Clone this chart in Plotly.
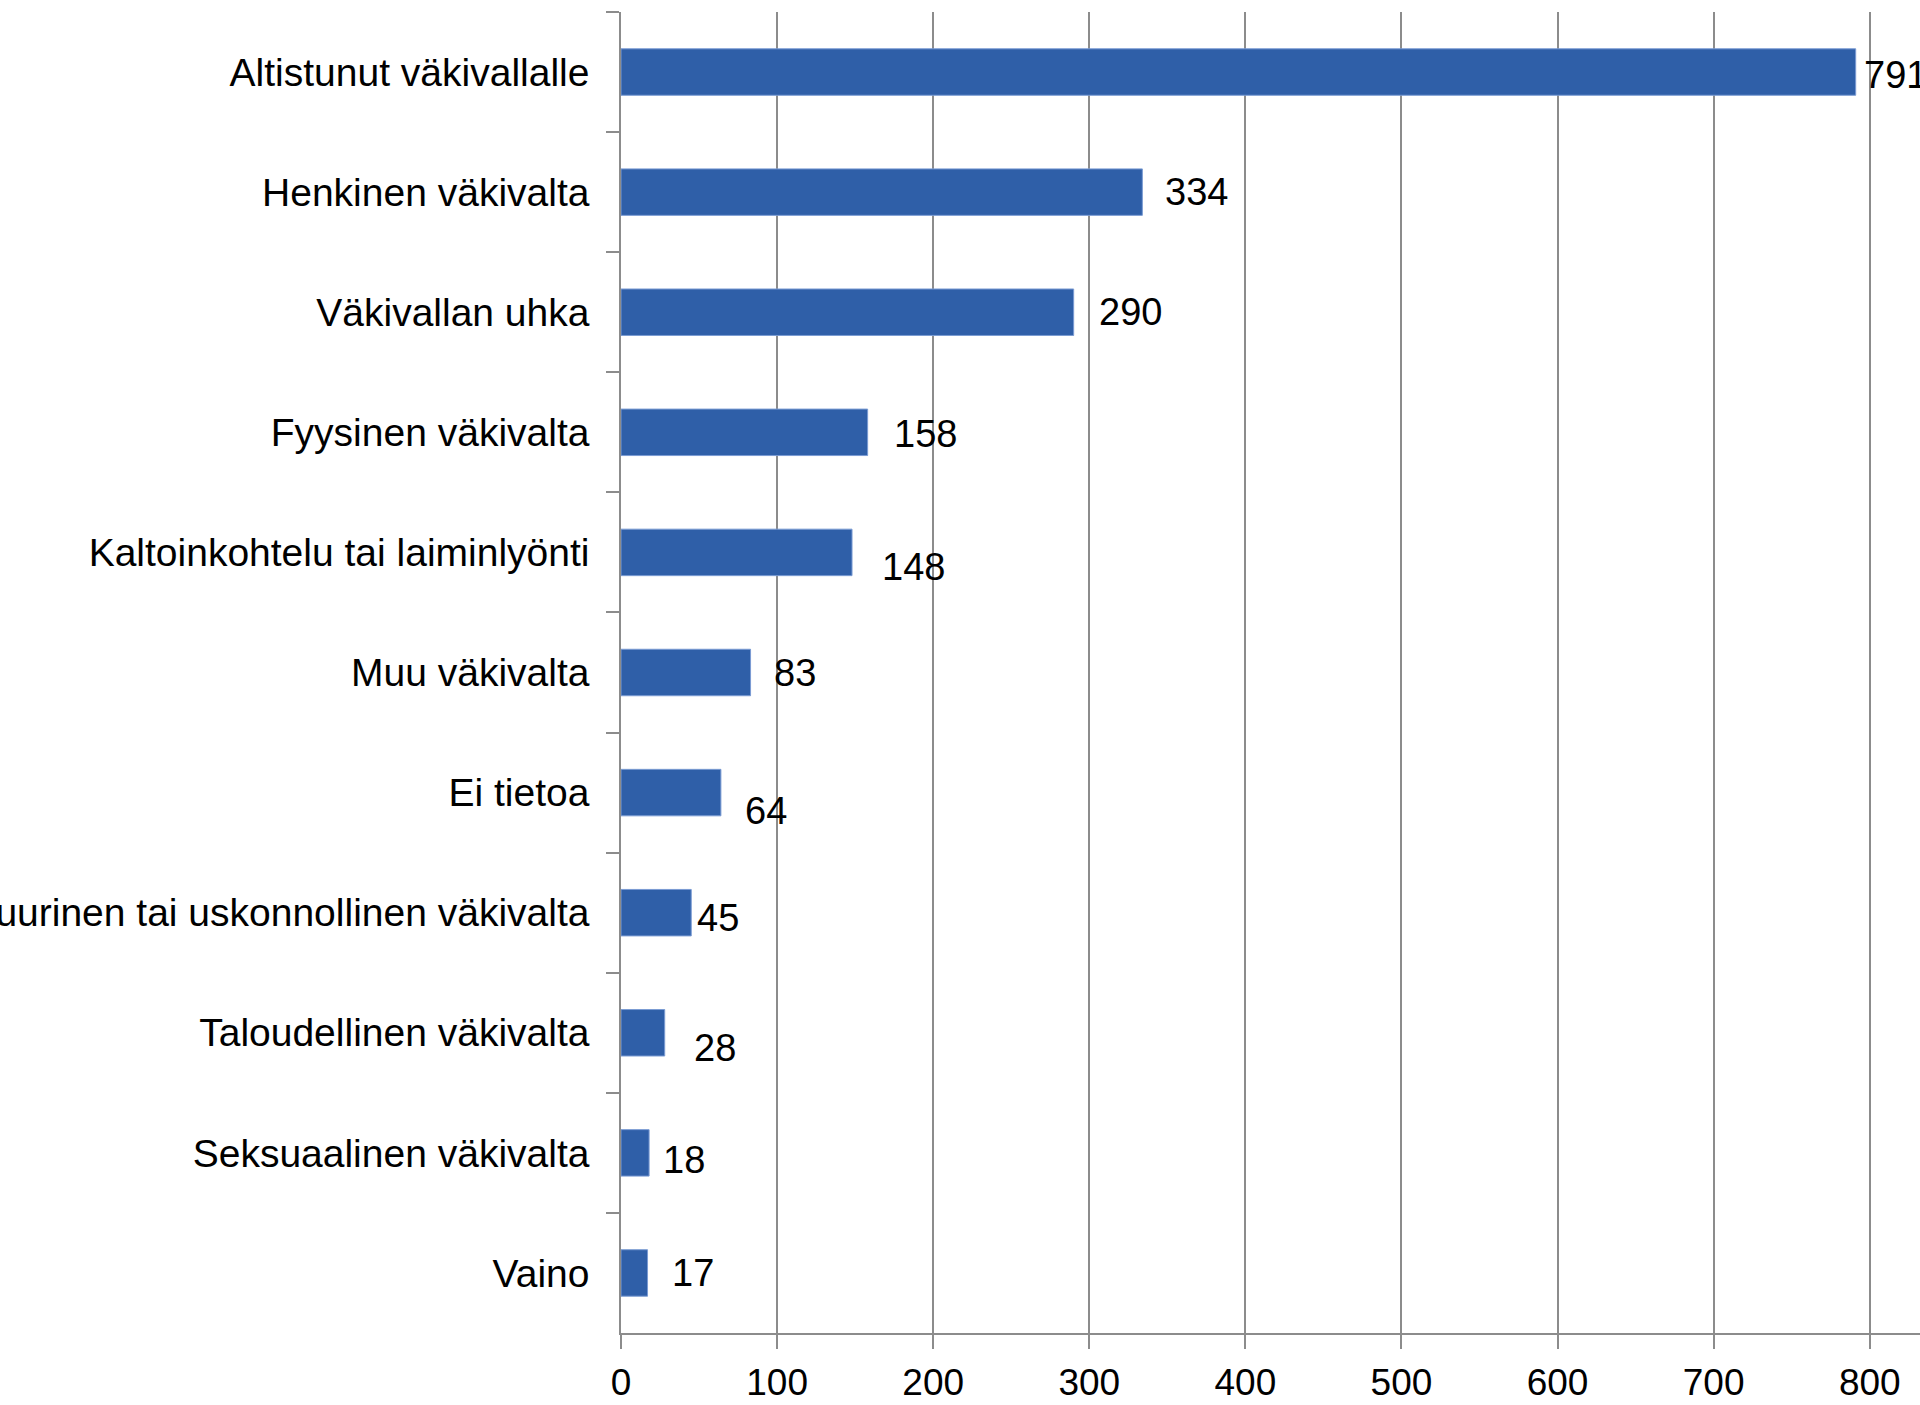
import plotly.graph_objects as go

categories = [
    "Altistunut väkivallalle",
    "Henkinen väkivalta",
    "Väkivallan uhka",
    "Fyysinen väkivalta",
    "Kaltoinkohtelu tai laiminlyönti",
    "Muu väkivalta",
    "Ei tietoa",
    "Kulttuurinen tai uskonnollinen väkivalta",
    "Taloudellinen väkivalta",
    "Seksuaalinen väkivalta",
    "Vaino",
]
values = [791, 334, 290, 158, 148, 83, 64, 45, 28, 18, 17]
x_ticks = [0, 100, 200, 300, 400, 500, 600, 700, 800]

# label nudges (pixels) imitating the manually placed labels of the original
label_dx = [6, 21, 23, 24, 28, 21, 22, 4, 27, 12, 22]
label_dy = [-3, 0, 0, -2, -15, 0, -18, -5, -15, -7, 0]

FONT = "Liberation Sans, Arial, sans-serif"
GRID = "#8c8c8c"

fig = go.Figure(
    go.Bar(
        x=values,
        y=categories,
        orientation="h",
        marker=dict(color="#2f5fa8", line=dict(color="#7a9bd3", width=1)),
        hoverinfo="x+y",
    )
)

for cat, v, dx, dy in zip(categories, values, label_dx, label_dy):
    fig.add_annotation(
        x=v, y=cat, xref="x", yref="y",
        text=str(v), showarrow=False,
        xanchor="left", yanchor="middle",
        xshift=dx, yshift=dy,
        font=dict(family=FONT, size=38, color="#000000"),
    )

fig.update_layout(
    width=1920,
    height=1405,
    margin=dict(l=621, r=0, t=12, b=72, autoexpand=False),
    paper_bgcolor="white",
    plot_bgcolor="white",
    bargap=0.613,
    showlegend=False,
    font=dict(family=FONT, size=38, color="#000000"),
    xaxis=dict(
        range=[0, 832.2],
        tickvals=x_ticks,
        ticktext=[str(t) for t in x_ticks],
        showgrid=True,
        gridcolor=GRID,
        gridwidth=1.5,
        zeroline=False,
        showline=True,
        linecolor=GRID,
        linewidth=2,
        ticks="outside",
        ticklen=14,
        tickwidth=1.5,
        tickcolor=GRID,
        tickfont=dict(family=FONT, size=37, color="#000000"),
        ticklabelstandoff=2,
        automargin=False,
    ),
    yaxis=dict(
        type="category",
        categoryorder="array",
        categoryarray=categories,
        autorange="reversed",
        showgrid=False,
        zeroline=False,
        showline=True,
        linecolor=GRID,
        linewidth=1.5,
        ticks="outside",
        tickson="boundaries",
        ticklen=13,
        tickwidth=1.5,
        tickcolor=GRID,
        tickfont=dict(family=FONT, size=39, color="#000000"),
        ticklabelstandoff=22,
        automargin=False,
    ),
)

fig.write_html(
    "out.html",
    config={"displayModeBar": False},
    post_script="document.body.style.margin='0';document.body.style.overflow='hidden';",
)
